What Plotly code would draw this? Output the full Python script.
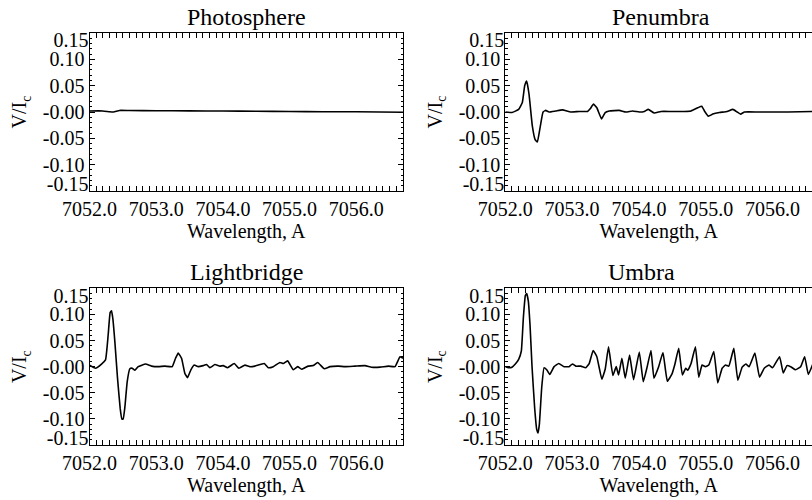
import plotly.graph_objects as go

# ---------------- data ----------------
panel_titles = ["Photosphere", "Penumbra", "Lightbridge", "Umbra"]
x_tick_vals = [7052.0, 7053.0, 7054.0, 7055.0, 7056.0]
x_tick_text = ["7052.0", "7053.0", "7054.0", "7055.0", "7056.0"]
y_tick_vals = [0.10, 0.05, 0.0, -0.05, -0.10]
y_tick_text = ["0.10", "0.05", "-0.00", "-0.05", "-0.10"]
y_edge_vals = [0.15, -0.15]
y_edge_text = ["0.15", "-0.15"]

wl_photo = [7052.0, 7052.2, 7052.3, 7052.36, 7052.45, 7052.6, 7053.0, 7053.5,
            7054.0, 7054.5, 7055.0, 7055.5, 7056.0, 7056.7]
v_photo = [0.002, 0.002, 0.0005, 0.0, 0.003, 0.0028, 0.0025, 0.0022,
           0.0018, 0.0015, 0.001, 0.0006, 0.0004, -0.0005]

wl_pen = [7052.0, 7052.1, 7052.2, 7052.255, 7052.29, 7052.32, 7052.355, 7052.405,
          7052.445, 7052.48, 7052.52, 7052.565, 7052.605, 7052.655, 7052.755,
          7052.855, 7052.98, 7053.105, 7053.23, 7053.27, 7053.32, 7053.37, 7053.44,
          7053.495, 7053.555, 7053.705, 7053.805, 7053.905, 7054.005, 7054.08,
          7054.14, 7054.23, 7054.33, 7054.48, 7054.68, 7054.78, 7054.88, 7054.94,
          7054.98, 7055.04, 7055.105, 7055.205, 7055.32, 7055.405, 7055.47,
          7055.52, 7055.58, 7055.78, 7055.98, 7056.23, 7056.6]
v_pen = [0.0, -0.001, 0.005, 0.018, 0.050, 0.059, 0.034, -0.027,
         -0.052, -0.057, -0.030, 0.0, 0.003, 0.0, 0.002,
         0.004, 0.0, 0.001, 0.001, 0.006, 0.015, 0.008, -0.013,
         -0.001, 0.002, 0.003, 0.0, 0.002, 0.0, 0.001,
         0.005, -0.002, 0.001, 0.001, 0.001, 0.002, 0.008, 0.011,
         0.002, -0.008, -0.004, -0.001, 0.001, 0.005, 0.0,
         -0.004, 0.0, 0.0, 0.0, 0.0, 0.001]

wl_lb = [7052.0, 7052.09, 7052.18, 7052.24, 7052.28, 7052.31, 7052.33, 7052.35, 7052.38,
         7052.42, 7052.46, 7052.485, 7052.505, 7052.53, 7052.565, 7052.605, 7052.64,
         7052.68, 7052.73, 7052.84, 7052.93, 7053.03, 7053.13, 7053.24, 7053.29,
         7053.33, 7053.38, 7053.43, 7053.47, 7053.52, 7053.57, 7053.63, 7053.705,
         7053.755, 7053.805, 7053.88, 7053.955, 7054.005, 7054.07, 7054.17,
         7054.24, 7054.33, 7054.405, 7054.48, 7054.62, 7054.68, 7054.755,
         7054.855, 7054.905, 7054.97, 7055.055, 7055.12, 7055.18, 7055.28,
         7055.355, 7055.42, 7055.52, 7055.605, 7055.73, 7055.83, 7055.98,
         7056.13, 7056.23, 7056.355, 7056.48, 7056.58, 7056.655, 7056.7]
v_lb = [0.003, -0.003, 0.005, 0.013, 0.061, 0.104, 0.107, 0.092, 0.048,
        -0.022, -0.080, -0.100, -0.100, -0.078, -0.029, -0.004, -0.003,
        -0.007, 0.0, 0.005, 0.001, 0.0, 0.001, 0.0, 0.016,
        0.026, 0.016, -0.013, -0.021, -0.006, 0.003, 0.0, 0.002,
        0.004, -0.002, 0.004, 0.001, 0.002, -0.002, 0.006,
        -0.003, 0.003, 0.0, 0.001, 0.006, -0.002, 0.0,
        0.008, 0.006, 0.011, -0.006, 0.0, -0.005, 0.001,
        0.002, 0.008, -0.004, 0.0, 0.001, 0.0, 0.001,
        0.002, -0.001, -0.001, 0.001, 0.0, 0.019, 0.016]

wl_umb = [7052.0, 7052.05, 7052.1, 7052.15, 7052.2, 7052.24, 7052.27, 7052.3,
          7052.32, 7052.345, 7052.37, 7052.4, 7052.44, 7052.47, 7052.49,
          7052.51, 7052.545, 7052.58, 7052.62, 7052.665, 7052.73, 7052.8,
          7052.88, 7052.955, 7053.005, 7053.055, 7053.13, 7053.205, 7053.255,
          7053.315, 7053.37, 7053.445, 7053.495, 7053.545, 7053.61, 7053.66,
          7053.695, 7053.745, 7053.795, 7053.86, 7053.92, 7054.005, 7054.065,
          7054.12, 7054.18, 7054.225, 7054.295, 7054.36, 7054.425, 7054.495,
          7054.535, 7054.595, 7054.65, 7054.7, 7054.73, 7054.78, 7054.845,
          7054.895, 7054.945, 7054.995, 7055.045, 7055.12, 7055.18, 7055.245,
          7055.295, 7055.345, 7055.42, 7055.48, 7055.545, 7055.6, 7055.65,
          7055.735, 7055.805, 7055.875, 7055.945, 7056.0, 7056.105, 7056.16,
          7056.215, 7056.27, 7056.345, 7056.42, 7056.48, 7056.535, 7056.6]
v_umb = [0.0, -0.002, -0.001, 0.005, 0.014, 0.030, 0.093, 0.136,
         0.140, 0.125, 0.080, 0.0, -0.080, -0.120, -0.127,
         -0.110, -0.040, -0.002, -0.006, -0.015, 0.0, 0.006,
         0.0, 0.0, 0.005, 0.001, 0.001, -0.002, 0.006,
         0.031, 0.019, -0.024, -0.005, 0.038, -0.017, 0.0,
         -0.016, 0.016, -0.022, 0.022, -0.025, 0.028, -0.029,
         -0.002, 0.031, -0.022, 0.0, 0.027, -0.028, -0.014,
         0.003, 0.035, -0.016, -0.003, -0.007, 0.006, 0.038,
         -0.020, 0.003, 0.0, 0.003, 0.029, -0.031, -0.003,
         0.003, 0.001, 0.035, -0.026, -0.001, 0.005, 0.0,
         0.026, -0.020, -0.003, 0.003, -0.002, 0.019, -0.012,
         0.002, 0.0, -0.006, 0.0, 0.019, -0.015, 0.004]

series_wl = [wl_photo, wl_pen, wl_lb, wl_umb]
series_v = [v_photo, v_pen, v_lb, v_umb]

# ---------------- layout geometry ----------------
W, H = 812, 500
x_domains = [[89.5 / W, 403 / W], [505.3 / W, 1.0], [89.5 / W, 403 / W], [505.3 / W, 1.0]]
y_domains = [[1 - 191 / H, 1 - 33 / H], [1 - 191 / H, 1 - 33 / H],
             [1 - 445 / H, 1 - 288.3 / H], [1 - 445 / H, 1 - 288.3 / H]]
x_ranges = [[7052.0, 7056.7], [7052.0, 7056.59], [7052.0, 7056.7], [7052.0, 7056.59]]
title_x = [246 / W, 661 / W, 246 / W, 641 / W]
EDGE_R = 0.1655   # range of the label-only overlay axis (pulls ±0.15 labels inward)

FONT = "Liberation Serif, Times New Roman, serif"
TICK_SIZE = 20

fig = go.Figure()
layout = dict(
    width=W, height=H, margin=dict(l=0, r=0, t=0, b=0, autoexpand=False),
    paper_bgcolor="white", plot_bgcolor="white", showlegend=False,
    font=dict(family=FONT, color="black", size=TICK_SIZE),
)
annotations = []
for i in range(4):
    n = "" if i == 0 else str(i + 1)
    m = str(i + 5)  # overlay axis for edge labels
    fig.add_trace(go.Scatter(
        x=series_wl[i], y=series_v[i], mode="lines",
        line=dict(color="black", width=1.6, shape="spline", smoothing=0.35),
        xaxis="x" + n, yaxis="y" + n, hoverinfo="skip"))
    fig.add_trace(go.Scatter(x=[None], y=[None], mode="lines", xaxis="x" + n,
                             yaxis="y" + m, hoverinfo="skip", showlegend=False))
    right = i in (1, 3)
    layout["xaxis" + n] = dict(
        domain=x_domains[i], range=x_ranges[i], anchor="y" + n, automargin=False,
        tickmode="array", tickvals=x_tick_vals, ticktext=x_tick_text,
        ticks="inside", ticklen=5, tickwidth=1, tickcolor="black",
        minor=dict(dtick=0.1, ticks="inside", ticklen=2.5, tickcolor="black", showgrid=False),
        showline=True, linecolor="black", linewidth=1, mirror="allticks",
        showgrid=False, zeroline=False,
        tickfont=dict(family=FONT, size=TICK_SIZE, color="black"),
        title=dict(text="Wavelength, A", font=dict(family=FONT, size=TICK_SIZE, color="black"), standoff=2),
    )
    layout["yaxis" + n] = dict(
        domain=y_domains[i], range=[-0.15, 0.15], anchor="x" + n, automargin=False,
        tickmode="array", tickvals=y_tick_vals, ticktext=y_tick_text,
        ticks="inside", ticklen=5, tickwidth=1, tickcolor="black",
        minor=dict(dtick=0.01, ticks="inside", ticklen=2.5, tickcolor="black", showgrid=False),
        showline=True, linecolor="black", linewidth=1,
        mirror=False if right else "allticks",
        showgrid=False, zeroline=False,
        tickfont=dict(family=FONT, size=TICK_SIZE, color="black"),
        title=dict(text="V/I<sub>c</sub>", font=dict(family=FONT, size=TICK_SIZE, color="black"), standoff=10),
    )
    layout["yaxis" + m] = dict(
        overlaying="y" + n, anchor="x" + n, side="left", automargin=False,
        range=[-EDGE_R, EDGE_R], tickmode="array", tickvals=y_edge_vals, ticktext=y_edge_text,
        ticks="", showline=False, showgrid=False, zeroline=False,
        tickfont=dict(family=FONT, size=TICK_SIZE, color="black"),
    )
    annotations.append(dict(
        text=panel_titles[i], xref="paper", yref="paper",
        x=title_x[i], y=y_domains[i][1], xanchor="center", yanchor="bottom",
        showarrow=False, font=dict(family=FONT, size=24, color="black"), yshift=1))
layout["annotations"] = annotations
fig.update_layout(**layout)
fig.write_html("out.html")
